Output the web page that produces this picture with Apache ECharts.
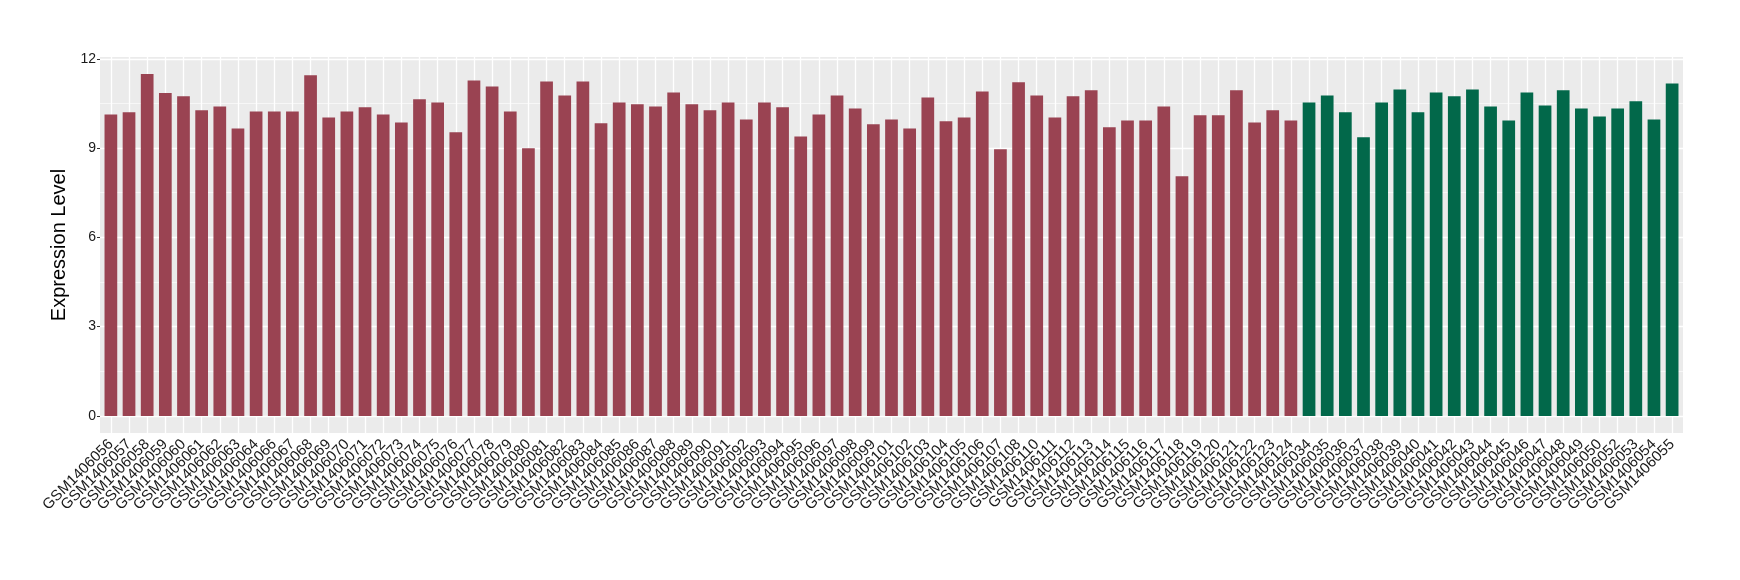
<!DOCTYPE html>
<html>
<head>
<meta charset="utf-8">
<script src="https://cdn.jsdelivr.net/npm/echarts@6/dist/echarts.min.js"></script>
<style>
html, body { margin: 0; padding: 0; background: #fff; }
#chart { width: 1740px; height: 580px; }
</style>
</head>
<body>
<div id="chart"></div>
<script>
// first group (red bars)
var samplesA = [
  "GSM1406056", "GSM1406057", "GSM1406058", "GSM1406059", "GSM1406060", "GSM1406061",
  "GSM1406062", "GSM1406063", "GSM1406064", "GSM1406066", "GSM1406067", "GSM1406068",
  "GSM1406069", "GSM1406070", "GSM1406071", "GSM1406072", "GSM1406073", "GSM1406074",
  "GSM1406075", "GSM1406076", "GSM1406077", "GSM1406078", "GSM1406079", "GSM1406080",
  "GSM1406081", "GSM1406082", "GSM1406083", "GSM1406084", "GSM1406085", "GSM1406086",
  "GSM1406087", "GSM1406088", "GSM1406089", "GSM1406090", "GSM1406091", "GSM1406092",
  "GSM1406093", "GSM1406094", "GSM1406095", "GSM1406096", "GSM1406097", "GSM1406098",
  "GSM1406099", "GSM1406101", "GSM1406102", "GSM1406103", "GSM1406104", "GSM1406105",
  "GSM1406106", "GSM1406107", "GSM1406108", "GSM1406110", "GSM1406111", "GSM1406112",
  "GSM1406113", "GSM1406114", "GSM1406115", "GSM1406116", "GSM1406117", "GSM1406118",
  "GSM1406119", "GSM1406120", "GSM1406121", "GSM1406122", "GSM1406123", "GSM1406124"
];
var valuesA = [
  10.13, 10.20, 11.49, 10.85, 10.74, 10.27,
  10.40, 9.66, 10.23, 10.23, 10.23, 11.45,
  10.03, 10.23, 10.37, 10.13, 9.86, 10.64,
  10.53, 9.53, 11.27, 11.07, 10.23, 8.99,
  11.24, 10.77, 11.24, 9.83, 10.53, 10.47,
  10.40, 10.87, 10.47, 10.27, 10.53, 9.96,
  10.53, 10.37, 9.39, 10.13, 10.77, 10.33,
  9.80, 9.96, 9.66, 10.70, 9.90, 10.03,
  10.90, 8.96, 11.21, 10.77, 10.03, 10.74,
  10.94, 9.70, 9.93, 9.93, 10.40, 8.05,
  10.10, 10.10, 10.94, 9.86, 10.27, 9.93
];
// second group (green bars)
var samplesB = [
  "GSM1406034", "GSM1406035", "GSM1406036", "GSM1406037", "GSM1406038", "GSM1406039",
  "GSM1406040", "GSM1406041", "GSM1406042", "GSM1406043", "GSM1406044", "GSM1406045",
  "GSM1406046", "GSM1406047", "GSM1406048", "GSM1406049", "GSM1406050", "GSM1406052",
  "GSM1406053", "GSM1406054", "GSM1406055"
];
var valuesB = [
  10.53, 10.77, 10.20, 9.36, 10.53, 10.97,
  10.20, 10.87, 10.74, 10.97, 10.40, 9.93,
  10.87, 10.43, 10.94, 10.33, 10.06, 10.33,
  10.57, 9.96, 11.17
];
var yTicks = [0, 3, 6, 9, 12];
var yMinor = [1.5, 4.5, 7.5, 10.5];

var categories = samplesA.concat(samplesB);
var seriesA = valuesA.concat(samplesB.map(function () { return "-"; }));
var seriesB = samplesA.map(function () { return "-"; }).concat(valuesB);

// ggplot-like padding of the y range
var yMax = 12.06, yMin = -0.575;

var chart = echarts.init(document.getElementById("chart"));
var font = "Liberation Sans";

var hLines = yTicks.map(function (v) {
  return { yAxis: v, lineStyle: { width: 1.3 } };
}).concat(yMinor.map(function (v) {
  return { yAxis: v, lineStyle: { width: 0.6 } };
}));
var vLines = categories.map(function (c) {
  return { xAxis: c };
});

chart.setOption({
  animation: false,
  backgroundColor: "#fff",
  grid: [
    // panel background
    { left: 100, right: 57, top: 57, bottom: 147, show: true, backgroundColor: "#ebebeb", borderWidth: 0 },
    // bars
    { left: 101.8, right: 58.8, top: 57, bottom: 147, show: false }
  ],
  xAxis: [
    { gridIndex: 0, type: "value", min: 0, max: 1, show: false },
    {
      gridIndex: 1,
      type: "category",
      data: categories,
      axisLine: { show: false },
      axisTick: { show: true, alignWithLabel: true, length: 3, lineStyle: { color: "#333", width: 1 } },
      axisLabel: {
        interval: 0,
        rotate: 45,
        margin: 9,
        color: "#1a1a1a",
        fontSize: 15,
        fontFamily: font
      },
      splitLine: { show: false }
    }
  ],
  yAxis: [
    {
      gridIndex: 0,
      type: "value",
      min: yMin,
      max: yMax,
      name: "Expression Level",
      nameLocation: "middle",
      nameRotate: 90,
      nameGap: 29,
      nameTextStyle: { fontSize: 20, color: "#000", fontFamily: font },
      axisLine: { show: false },
      axisTick: { show: true, customValues: yTicks, length: 3, lineStyle: { color: "#333" } },
      axisLabel: { customValues: yTicks, margin: 4, color: "#1a1a1a", fontSize: 14, fontFamily: font },
      splitLine: { show: false }
    },
    { gridIndex: 1, type: "value", min: yMin, max: yMax, show: false, splitLine: { show: false } }
  ],
  series: [
    {
      type: "line",
      xAxisIndex: 0,
      yAxisIndex: 0,
      data: [],
      markLine: {
        z: 1,
        silent: true,
        symbol: "none",
        label: { show: false },
        lineStyle: { color: "#fff", type: "solid" },
        data: hLines
      }
    },
    {
      type: "line",
      xAxisIndex: 1,
      yAxisIndex: 1,
      data: [],
      markLine: {
        z: 1,
        silent: true,
        symbol: "none",
        label: { show: false },
        lineStyle: { color: "#fff", type: "solid", width: 1.3 },
        data: vLines
      }
    },
    {
      type: "bar",
      xAxisIndex: 1,
      yAxisIndex: 1,
      z: 3,
      data: seriesA,
      barWidth: "70%",
      barGap: "-100%",
      itemStyle: { color: "#9a4352" }
    },
    {
      type: "bar",
      xAxisIndex: 1,
      yAxisIndex: 1,
      z: 3,
      data: seriesB,
      barWidth: "70%",
      barGap: "-100%",
      itemStyle: { color: "#02684a" }
    }
  ]
});
</script>
</body>
</html>
